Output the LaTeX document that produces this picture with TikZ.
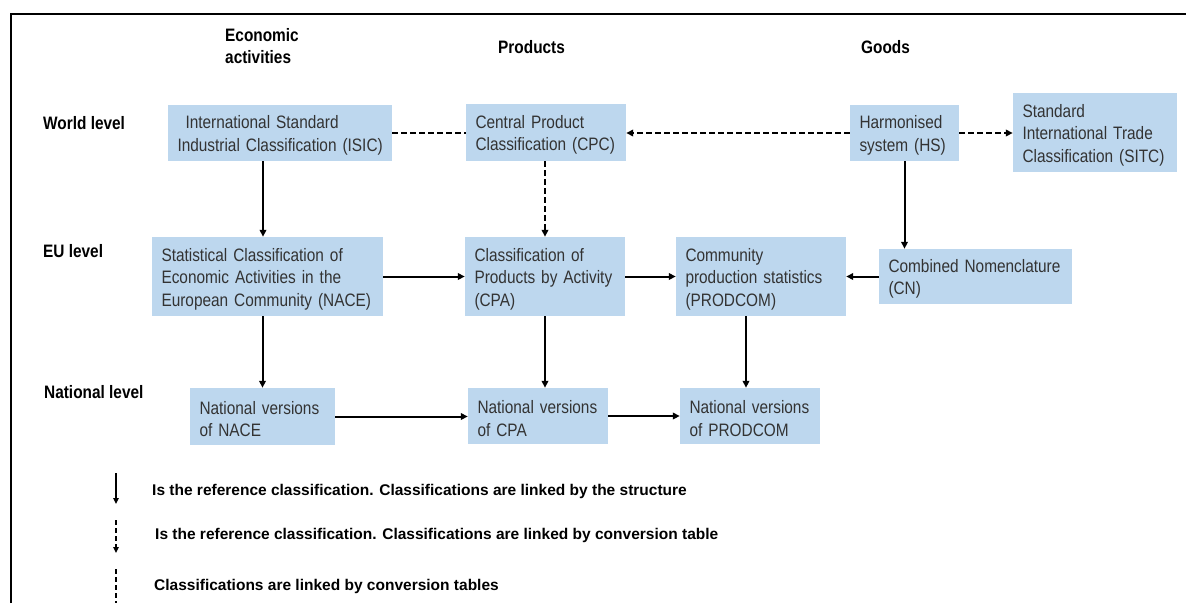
\documentclass[tikz,border=0pt]{standalone}
\usepackage{fontspec}
\setmainfont{Liberation Sans}
\newfontfamily\boxfont[FakeStretch=0.855]{Liberation Sans}
\usetikzlibrary{arrows.meta}
\definecolor{boxblue}{HTML}{BDD7EE}
\definecolor{boxtext}{HTML}{333333}
\begin{document}
\begin{tikzpicture}[x=1pt,y=-1pt,
  box/.style={rectangle, fill=boxblue, inner xsep=9.5pt, inner ysep=0pt, align=left,
    text=boxtext, font=\boxfont\fontsize{18}{22.5}\selectfont,
    execute at begin node={\rule{0pt}{18pt}}},
  hdr/.style={inner sep=0pt, anchor=west, align=left, text=black,
    font=\boxfont\bfseries\fontsize{18}{22}\selectfont},
  leg/.style={inner sep=0pt, anchor=west, text=black,
    font=\bfseries\fontsize{15.5}{18}\selectfont},
  conn/.style={line width=2pt, -{Triangle[length=7pt,width=6.5pt]}},
  dashcon/.style={line width=2pt, dash pattern=on 6pt off 3pt},
  dasharr/.style={line width=2pt, dash pattern=on 6pt off 3pt, -{Triangle[length=7pt,width=6.5pt]}},
]
\useasboundingbox (0,0) rectangle (1186,603);
% frame
\draw[line width=2pt] (10.5,603) -- (10.5,13.5) -- (1186,13.5);

% headers
\node[hdr] (hea) at (225,46) {Economic\\activities};
\node[hdr] (hpr) at (498,47) {Products};
\node[hdr] (hgo) at (861,47) {Goods};
\node[hdr] (hwl) at (43,123) {World level};
\node[hdr] (heu) at (43,251) {EU level};
\node[hdr] (hnl) at (44,392) {National level};

% boxes
\node[box, minimum width=224pt, minimum height=56pt, text width=205pt] (isic) at (280,133)
  {\hspace*{8pt}International Standard\\\mbox{Industrial Classification (ISIC)}};
\node[box, minimum width=160pt, minimum height=57pt, text width=141pt] (cpc) at (546,132.5)
  {Central Product\\Classification (CPC)};
\node[box, minimum width=109pt, minimum height=56pt, text width=90pt] (hs) at (904.5,133)
  {Harmonised\\system (HS)};
\node[box, minimum width=164pt, minimum height=79pt, text width=145pt] (sitc) at (1095,132.5)
  {Standard\\International Trade\\\mbox{Classification (SITC)}};
\node[box, minimum width=193pt, minimum height=55pt, text width=174pt] (cn) at (975.5,276.5)
  {Combined Nomenclature\\(CN)};
\node[box, minimum width=231pt, minimum height=79pt, text width=212pt] (nace) at (267.5,276.5)
  {Statistical Classification of\\Economic Activities in the\\\mbox{European Community (NACE)}};
\node[box, minimum width=160pt, minimum height=79pt, text width=141pt] (cpa) at (545,276.5)
  {Classification of\\\mbox{Products by Activity}\\(CPA)};
\node[box, minimum width=170pt, minimum height=79pt, text width=151pt] (prodcom) at (761,276.5)
  {Community\\\mbox{production statistics}\\(PRODCOM)};
\node[box, minimum width=145pt, minimum height=57pt, text width=126pt] (natnace) at (262.5,416.5)
  {\mbox{National versions}\\of NACE};
\node[box, minimum width=140pt, minimum height=56pt, text width=121pt] (natcpa) at (538,416)
  {\mbox{National versions}\\of CPA};
\node[box, minimum width=140pt, minimum height=56pt, text width=121pt] (natprod) at (750,416)
  {\mbox{National versions}\\of PRODCOM};

% helper columns
\coordinate (c263) at (263,0);
\coordinate (c545) at (545,0);
\coordinate (c746) at (746,0);

% connectors
\draw[conn] (isic.south -| c263) -- (nace.north -| c263);
\draw[dashcon] (isic.east) -- (isic.east -| cpc.west);
\draw[dasharr] (hs.west) -- (hs.west -| cpc.east);
\draw[dasharr] (hs.east) -- (hs.east -| sitc.west);
\draw[dasharr] (cpc.south -| c545) -- (cpa.north -| c545);
\draw[conn] (hs.south) -- (hs.south |- cn.north);
\draw[conn] (nace.east) -- (nace.east -| cpa.west);
\draw[conn] (cpa.east) -- (cpa.east -| prodcom.west);
\draw[conn] (cn.west) -- (cn.west -| prodcom.east);
\draw[conn] (nace.south -| natnace.north) -- (natnace.north);
\draw[conn] (cpa.south) -- (cpa.south |- natcpa.north);
\draw[conn] (prodcom.south -| c746) -- (natprod.north -| c746);
\draw[conn] (natnace.east) -- (natnace.east -| natcpa.west);
\draw[conn] (natcpa.east) -- (natcpa.east -| natprod.west);

% legend
\coordinate (l1a) at (116,473);
\coordinate (l1b) at (116,504);
\coordinate (l2a) at (116,520);
\coordinate (l2b) at (116,553);
\coordinate (l3a) at (116,569);
\coordinate (l3b) at (116,603);
\draw[line width=1.6pt, -{Triangle[length=6pt,width=5.5pt]}] (l1a) -- (l1b);
\draw[line width=1.6pt, dash pattern=on 5pt off 3pt, -{Triangle[length=6pt,width=5.5pt]}] (l2a) -- (l2b);
\draw[line width=1.6pt, dash pattern=on 5pt off 3pt] (l3a) -- (l3b);
\node[leg] (t1) at (152,491.5) {Is the reference classification. Classifications are linked by the structure};
\node[leg] (t2) at (155,535.5) {Is the reference classification. Classifications are linked by conversion table};
\node[leg] (t3) at (154,586) {Classifications are linked by conversion tables};
\end{tikzpicture}
\end{document}
